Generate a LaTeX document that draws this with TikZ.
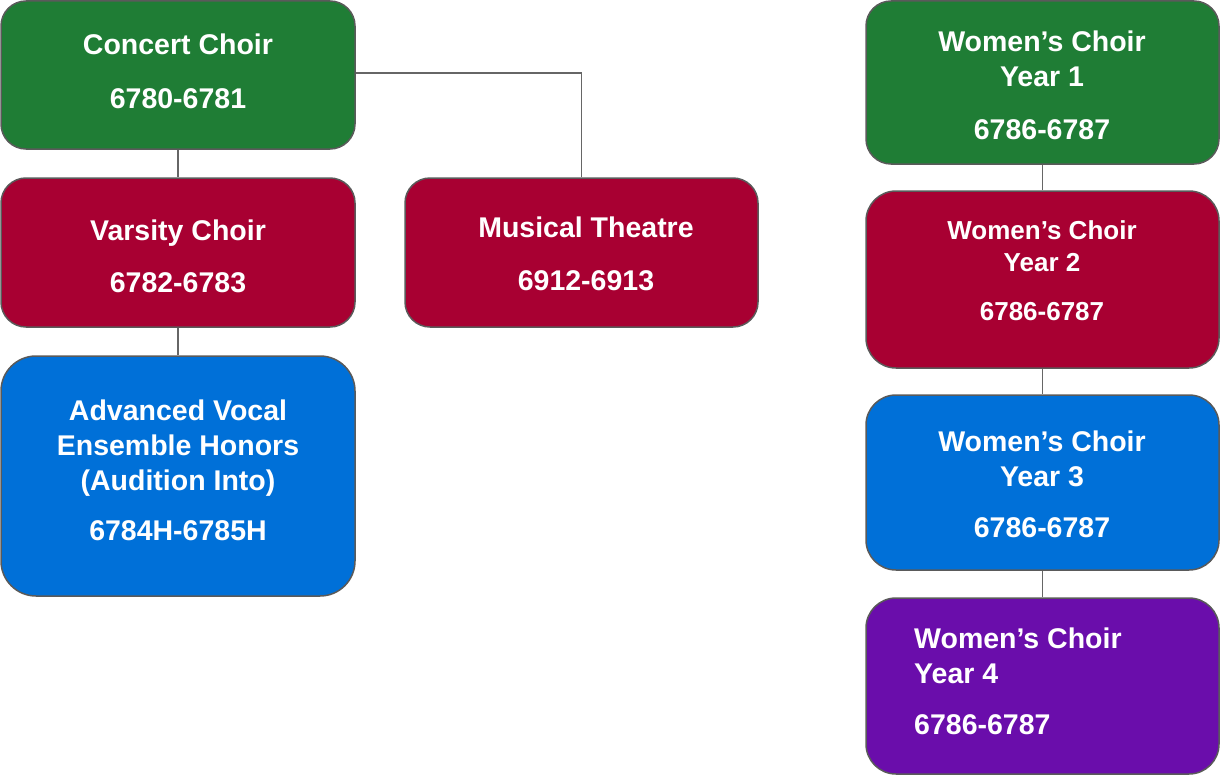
\documentclass[tikz,border=0pt]{standalone}
\usepackage{fontspec}
\setmainfont{Liberation Sans}
\definecolor{cgreen}{HTML}{1F7D35}
\definecolor{cred}{HTML}{A80032}
\definecolor{cblue}{HTML}{0070D8}
\definecolor{cpurple}{HTML}{6A0DAB}
\definecolor{cborder}{HTML}{5A5A5A}
\definecolor{cline}{HTML}{666666}
\tikzset{
  box/.style={draw=cborder, line width=1.5pt, rounded corners=25pt, inner sep=0pt},
  txt/.style={text=white, font=\fontsize{28.5}{35}\selectfont\bfseries, align=center, inner sep=0pt},
  link/.style={draw=cline, line width=1.5pt},
}
\begin{document}
\begin{tikzpicture}[x=1pt,y=-1pt]
\useasboundingbox (0,0) rectangle (1220,776);
% boxes
\node[box, fill=cgreen, minimum width=354pt, minimum height=148pt] (concert) at (178,75) {};
\node[box, fill=cred, minimum width=354pt, minimum height=149pt] (varsity) at (178,252.5) {};
\node[box, fill=cred, minimum width=353pt, minimum height=149pt] (musical) at (581.5,252.5) {};
\node[box, fill=cblue, rounded corners=35pt, minimum width=354pt, minimum height=240pt] (advanced) at (178,476) {};
\node[box, fill=cgreen, minimum width=353pt, minimum height=163pt] (wy1) at (1042.5,82.5) {};
\node[box, fill=cred, rounded corners=30pt, minimum width=353pt, minimum height=177pt] (wy2) at (1042.5,279.5) {};
\node[box, fill=cblue, rounded corners=30pt, minimum width=353pt, minimum height=175pt] (wy3) at (1042.5,482.5) {};
\node[box, fill=cpurple, rounded corners=30pt, minimum width=353pt, minimum height=176pt] (wy4) at (1042.5,686) {};
% texts
\node[txt] (tconcert) at (178,71) {Concert Choir\\[19pt]6780-6781};
\node[txt] (tvarsity) at (178,256) {Varsity Choir\\[17pt]6782-6783};
\node[txt] (tmusical) at (586,253.5) {Musical Theatre\\[18pt]6912-6913};
\node[txt] (tadvanced) at (178,470.5) {Advanced Vocal\\Ensemble Honors\\(Audition Into)\\[15pt]6784H-6785H};
\node[txt] (twy1) at (1042,85.5) {Women’s Choir\\Year 1\\[18pt]6786-6787};
\node[txt, font=\fontsize{26}{32}\selectfont\bfseries] (twy2) at (1042,270.5) {Women’s Choir\\Year 2\\[17pt]6786-6787};
\node[txt] (twy3) at (1042,484) {Women’s Choir\\Year 3\\[16pt]6786-6787};
\node[txt, align=left, anchor=west] (twy4) at (914,681.5) {Women’s Choir\\Year 4\\[16pt]6786-6787};
% connectors
\draw[link] (concert.south) -- (varsity.north);
\draw[link] (varsity.south) -- (advanced.north);
\draw[link] ([yshift=2pt]concert.east) -| (musical.north);
\draw[link] (wy1.south) -- (wy2.north);
\draw[link] (wy2.south) -- (wy3.north);
\draw[link] (wy3.south) -- (wy4.north);
\end{tikzpicture}
\end{document}
